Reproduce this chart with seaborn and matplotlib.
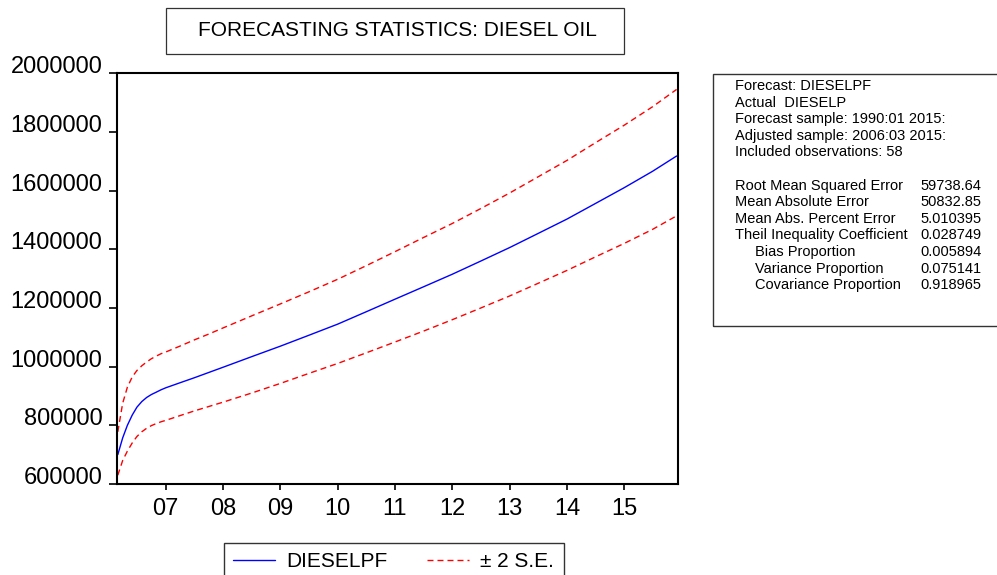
import pandas as pd
import matplotlib
matplotlib.use("Agg")
import matplotlib.pyplot as plt
import matplotlib.dates as mdates
from matplotlib.lines import Line2D
from matplotlib.patches import Rectangle
import seaborn as sns

# forecast path and +/- 2 S.E. band
dates = ["2006-03", "2006-04", "2006-05", "2006-06", "2006-07", "2006-08",
         "2006-09", "2006-10", "2006-11", "2006-12", "2007-01", "2007-04",
         "2007-07", "2007-10", "2008-01", "2008-07", "2009-01", "2009-07",
         "2010-01", "2010-07", "2011-01", "2011-07", "2012-01", "2012-07",
         "2013-01", "2013-07", "2014-01", "2014-07", "2015-01", "2015-07",
         "2015-12"]
dieselpf = [700000, 757000, 800000, 835000, 862000, 881000, 895000, 905000,
            913000, 921000, 928000, 945000, 962000, 980000, 998000, 1034000,
            1070000, 1107000, 1145000, 1187000, 1230000, 1272000, 1315000,
            1360000, 1406000, 1454000, 1503000, 1556000, 1610000, 1666000,
            1718000]
upper = [778000, 875000, 930000, 965000, 987000, 1003000, 1016000, 1027000,
         1036000, 1044000, 1050000, 1070000, 1091000, 1111000, 1132000,
         1173000, 1214000, 1255000, 1298000, 1344000, 1392000, 1440000,
         1488000, 1539000, 1592000, 1647000, 1703000, 1763000, 1823000,
         1886000, 1945000]
lower = [630000, 680000, 712000, 740000, 762000, 778000, 790000, 799000,
         806000, 812000, 817000, 833000, 849000, 864000, 879000, 910000,
         943000, 977000, 1011000, 1047000, 1084000, 1121000, 1160000,
         1200000, 1241000, 1284000, 1328000, 1374000, 1420000, 1468000,
         1514000]

y_ticks = [600000, 800000, 1000000, 1200000, 1400000, 1600000, 1800000, 2000000]

title = "FORECASTING STATISTICS: DIESEL OIL"
info_lines = ["Forecast: DIESELPF", "Actual  DIESELP",
              "Forecast sample: 1990:01 2015:", "Adjusted sample: 2006:03 2015:",
              "Included observations: 58"]
stat_names = ["Root Mean Squared Error", "Mean Absolute Error",
              "Mean Abs. Percent Error", "Theil Inequality Coefficient",
              "Bias Proportion", "Variance Proportion", "Covariance Proportion"]
stat_indent = [False, False, False, False, True, True, True]
stat_values = ["59738.64", "50832.85", "5.010395", "0.028749", "0.005894",
               "0.075141", "0.918965"]

df = pd.DataFrame({"date": pd.to_datetime(dates), "fc": dieselpf,
                   "up": upper, "lo": lower})

sns.set_style("white")
plt.rcParams["font.family"] = ["Liberation Sans", "DejaVu Sans"]
plt.rcParams["text.color"] = "black"

W, H = 997, 575
fig = plt.figure(figsize=(W / 100, H / 100), dpi=100)
ax = fig.add_axes([116.7 / W, 1 - 484 / H, (678.3 - 116.7) / W, (484 - 73.3) / H])

dash = (4.3, 2.9)
sns.lineplot(data=df, x="date", y="fc", ax=ax, color="#0000ff", linewidth=1.0)
sns.lineplot(data=df, x="date", y="up", ax=ax, color="#ff0000", linewidth=1.0,
             dashes=False).lines[-1].set_dashes(dash)
sns.lineplot(data=df, x="date", y="lo", ax=ax, color="#ff0000", linewidth=1.0,
             dashes=False).lines[-1].set_dashes(dash)

ax.set_xlim(pd.Timestamp("2006-02-22"), pd.Timestamp("2015-12-12"))
ax.set_ylim(600000, 2000000)
ax.set_yticks(y_ticks)
ax.set_yticklabels([str(v) for v in y_ticks])
ax.xaxis.set_major_locator(mdates.YearLocator(1))
ax.xaxis.set_major_formatter(mdates.DateFormatter("%y"))
ax.set_xlabel("")
ax.set_ylabel("")

for s in ax.spines.values():
    s.set_color("black")
    s.set_linewidth(1.5)
ax.tick_params(axis="y", left=True, length=6, width=1.2, pad=4.3,
               labelsize=17, colors="black", direction="out")
ax.tick_params(axis="x", bottom=True, length=4.3, width=1.2, pad=6,
               labelsize=17, colors="black", direction="out")
for lab in ax.get_yticklabels():
    lab.set_verticalalignment("baseline")

# title box
fig.patches.append(Rectangle((165.5 / W, 1 - 53.7 / H), (624 - 165.5) / W,
                             (53.7 - 7.6) / H, transform=fig.transFigure,
                             fill=False, edgecolor="#333333", linewidth=0.9))
fig.text(397 / W, 1 - 31 / H, title, ha="center", va="center",
         fontsize=15, color="black")

# statistics box
fig.patches.append(Rectangle((713 / W, 1 - 325.7 / H), (W + 5 - 713) / W,
                             (325.7 - 74) / H, transform=fig.transFigure,
                             fill=False, edgecolor="#333333", linewidth=1.0))
step = 16.6
fs = 10.5
for i, txt in enumerate(info_lines):
    fig.text(735 / W, 1 - (86 + i * step) / H, txt, ha="left", va="center",
             fontsize=fs, color="black")
for j, (name, val) in enumerate(zip(stat_names, stat_values)):
    y = 1 - (86 + (j + 6) * step) / H
    x0 = 755 if stat_indent[j] else 735
    fig.text(x0 / W, y, name, ha="left", va="center", fontsize=fs, color="black")
    fig.text(920 / W, y, val, ha="left", va="center", fontsize=fs, color="black")

# legend under the plot
handles = [Line2D([], [], color="#0000ff", linewidth=1.0),
           Line2D([], [], color="#ff0000", linewidth=1.0, dashes=dash)]
fig.legend(handles, ["DIESELPF", "\u00b1 2 S.E."], ncol=2, loc="upper left",
           bbox_to_anchor=(224 / W, 1 - 542.7 / H), frameon=True,
           fancybox=False, edgecolor="#333333", framealpha=1, fontsize=15,
           labelcolor="black", handlelength=2.0, handletextpad=0.55,
           columnspacing=1.9, borderpad=0.45, borderaxespad=0)

fig.savefig("out.png", dpi=100)
